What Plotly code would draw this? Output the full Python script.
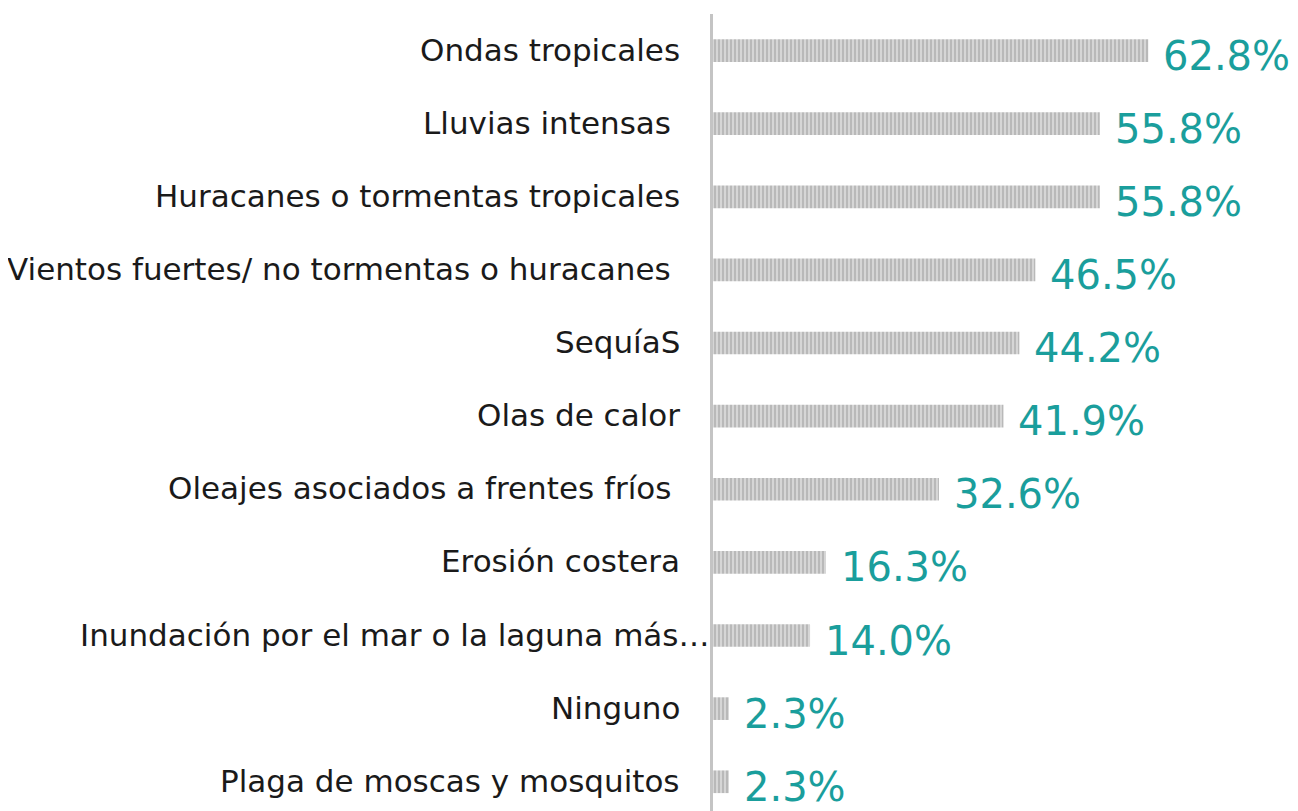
import plotly.graph_objects as go

categories = [
    "Ondas tropicales",
    "Lluvias intensas ",
    "Huracanes o tormentas tropicales",
    "Vientos fuertes/ no tormentas o huracanes ",
    "SequíaS",
    "Olas de calor",
    "Oleajes asociados a frentes fríos ",
    "Erosión costera",
    "Inundación por el mar o la laguna más…",
    "Ninguno",
    "Plaga de moscas y mosquitos",
]
values = [62.8, 55.8, 55.8, 46.5, 44.2, 41.9, 32.6, 16.3, 14.0, 2.3, 2.3]
value_labels = [f"{v:.1f}%" for v in values]

ypos = list(range(len(categories)))

fig = go.Figure()
fig.add_trace(go.Bar(
    x=values, y=ypos, orientation="h", width=0.31,
    marker=dict(color="#d4d4d4", line=dict(width=0),
                pattern=dict(shape="|", fgcolor="#9c9c9c", bgcolor="#d6d6d6",
                             size=4, solidity=0.5)),
    hoverinfo="skip",
))

ann = []
for i, (c, v, t) in enumerate(zip(categories, values, value_labels)):
    if c.endswith("…"):
        shift = -1
    elif c.endswith(" "):
        shift = -40
    else:
        shift = -31
    ann.append(dict(x=0, xref="paper", y=i, yref="y", text=c.rstrip(),
                    xanchor="right", yanchor="middle", xshift=shift, yshift=1,
                    showarrow=False,
                    font=dict(family="DejaVu Sans, sans-serif", size=31, color="#1a1a1a")))
    ann.append(dict(x=v, xref="x", y=i, yref="y", text=t, xanchor="left",
                    yanchor="middle", xshift=13, yshift=-5, showarrow=False,
                    font=dict(family="DejaVu Sans, sans-serif", size=40, color="#1a9e9c")))

fig.update_layout(
    width=1290, height=803,
    margin=dict(l=705, r=0, t=6, b=0),
    paper_bgcolor="white", plot_bgcolor="white",
    showlegend=False,
    xaxis=dict(range=[0, 84.4], showgrid=False, zeroline=False, showticklabels=False,
               showline=False, ticks=""),
    yaxis=dict(range=[10.4, -0.5], showgrid=False, zeroline=False, showticklabels=False,
               showline=True, linecolor="#c4c4c4", linewidth=3, ticks=""),
    annotations=ann,
)

fig.write_html("out.html")
